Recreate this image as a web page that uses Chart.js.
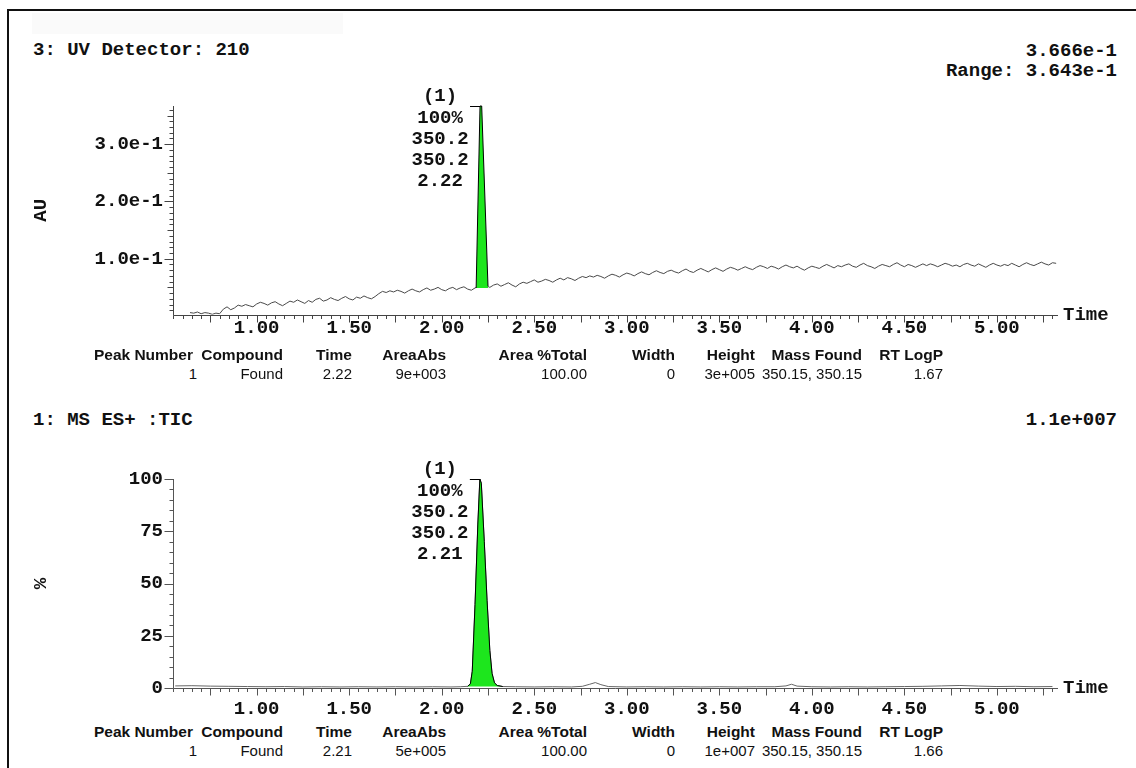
<!DOCTYPE html>
<html lang="en">
<head>
<meta charset="UTF-8">
<title>UV / TIC chromatogram</title>
<script src="https://cdn.jsdelivr.net/npm/chart.js"></script>
<style>
  body { margin:0; background:#fff; width:1136px; height:768px; overflow:hidden; position:relative; font-family:'Liberation Sans', Arial, sans-serif; }
  .frame { position:absolute; left:7px; top:9px; width:1140px; height:770px; border-left:2px solid #111; border-top:2px solid #111; }
  .blank { position:absolute; left:32px; top:13px; width:311px; height:21px; background:#fafafa; }
  .mono { position:absolute; font-family:'Liberation Mono','Courier New',monospace; font-weight:bold; font-size:19px; line-height:20px; color:#111; white-space:pre; }
  .cell { position:absolute; font-size:15px; line-height:18px; color:#111; white-space:nowrap; text-align:right; }
  .cell.h { font-weight:bold; font-size:15.5px; }
  canvas { position:absolute; left:0; }
</style>
</head>
<body>
<div class="frame"></div>
<div class="blank"></div>

<div class="mono" style="left:33px; top:40px;">3: UV Detector: 210</div>
<div class="mono" style="right:19px; top:41px;">3.666e-1</div>
<div class="mono" style="right:19px; top:61px;">Range: 3.643e-1</div>
<canvas id="uvChart" width="1136" height="270" style="top:80px"></canvas>

<div class="mono" style="left:33px; top:410px;">1: MS ES+ :TIC</div>
<div class="mono" style="right:19px; top:410px;">1.1e+007</div>
<canvas id="ticChart" width="1136" height="265" style="top:455px"></canvas>

<div id="tables"></div>

<script>
// ---- data ----
const timeRange = [0.548, 5.33];
const timeTicks = [1.0, 1.5, 2.0, 2.5, 3.0, 3.5, 4.0, 4.5, 5.0];
const timeTickLabels = ['1.00', '1.50', '2.00', '2.50', '3.00', '3.50', '4.00', '4.50', '5.00'];

// UV 210 trace (AU)
const uvTimes = [
  0.64,0.66,0.68,0.70,0.72,0.74,0.76,0.78,0.80,0.82,
  0.84,0.86,0.88,0.90,0.92,0.94,0.96,0.98,1.00,1.02,
  1.04,1.06,1.08,1.10,1.12,1.14,1.16,1.18,1.20,1.22,
  1.24,1.26,1.28,1.30,1.32,1.34,1.36,1.38,1.40,1.42,
  1.44,1.46,1.48,1.50,1.52,1.54,1.56,1.58,1.60,1.62,
  1.64,1.66,1.68,1.70,1.72,1.74,1.76,1.78,1.80,1.82,
  1.84,1.86,1.88,1.90,1.92,1.94,1.96,1.98,2.00,2.02,
  2.04,2.06,2.08,2.10,2.12,2.14,2.16,2.18,2.20,2.22,
  2.24,2.26,2.28,2.30,2.32,2.34,2.36,2.38,2.40,2.42,
  2.44,2.46,2.48,2.50,2.52,2.54,2.56,2.58,2.60,2.62,
  2.64,2.66,2.68,2.70,2.72,2.74,2.76,2.78,2.80,2.82,
  2.84,2.86,2.88,2.90,2.92,2.94,2.96,2.98,3.00,3.02,
  3.04,3.06,3.08,3.10,3.12,3.14,3.16,3.18,3.20,3.22,
  3.24,3.26,3.28,3.30,3.32,3.34,3.36,3.38,3.40,3.42,
  3.44,3.46,3.48,3.50,3.52,3.54,3.56,3.58,3.60,3.62,
  3.64,3.66,3.68,3.70,3.72,3.74,3.76,3.78,3.80,3.82,
  3.84,3.86,3.88,3.90,3.92,3.94,3.96,3.98,4.00,4.02,
  4.04,4.06,4.08,4.10,4.12,4.14,4.16,4.18,4.20,4.22,
  4.24,4.26,4.28,4.30,4.32,4.34,4.36,4.38,4.40,4.42,
  4.44,4.46,4.48,4.50,4.52,4.54,4.56,4.58,4.60,4.62,
  4.64,4.66,4.68,4.70,4.72,4.74,4.76,4.78,4.80,4.82,
  4.84,4.86,4.88,4.90,4.92,4.94,4.96,4.98,5.00,5.02,
  5.04,5.06,5.08,5.10,5.12,5.14,5.16,5.18,5.20,5.22,
  5.24,5.26,5.28,5.30,5.32
];
const uvValues = [
  0.006,0.005,0.007,0.004,0.006,0.005,0.003,0.005,0.004,0.012,
  0.016,0.011,0.014,0.019,0.017,0.020,0.018,0.016,0.021,0.024,
  0.022,0.019,0.023,0.025,0.021,0.018,0.022,0.026,0.024,0.028,
  0.025,0.022,0.027,0.024,0.029,0.031,0.026,0.028,0.032,0.029,
  0.027,0.031,0.034,0.030,0.028,0.033,0.031,0.035,0.032,0.030,
  0.034,0.039,0.043,0.041,0.044,0.042,0.045,0.043,0.040,0.044,
  0.047,0.044,0.042,0.046,0.049,0.045,0.047,0.050,0.046,0.044,
  0.048,0.050,0.046,0.049,0.051,0.047,0.045,0.049,0.052,0.050,
  0.053,0.050,0.054,0.056,0.052,0.055,0.058,0.054,0.051,0.056,
  0.059,0.057,0.060,0.063,0.059,0.061,0.064,0.062,0.059,0.063,
  0.066,0.063,0.067,0.065,0.062,0.066,0.069,0.067,0.070,0.068,
  0.071,0.069,0.066,0.070,0.073,0.071,0.068,0.072,0.075,0.073,
  0.070,0.074,0.077,0.074,0.072,0.076,0.079,0.076,0.074,0.078,
  0.080,0.077,0.075,0.079,0.082,0.078,0.076,0.080,0.083,0.080,
  0.077,0.081,0.084,0.081,0.078,0.082,0.085,0.083,0.080,0.083,
  0.086,0.083,0.081,0.085,0.088,0.086,0.083,0.087,0.085,0.082,
  0.086,0.089,0.086,0.084,0.087,0.083,0.080,0.084,0.087,0.085,
  0.083,0.087,0.090,0.087,0.084,0.088,0.086,0.089,0.091,0.087,
  0.085,0.089,0.092,0.088,0.086,0.083,0.087,0.090,0.088,0.086,
  0.090,0.093,0.089,0.086,0.090,0.088,0.085,0.088,0.091,0.088,
  0.091,0.089,0.086,0.089,0.092,0.090,0.087,0.089,0.086,0.090,
  0.092,0.089,0.087,0.091,0.088,0.085,0.089,0.092,0.089,0.087,
  0.090,0.088,0.092,0.089,0.086,0.090,0.093,0.090,0.088,0.091,
  0.094,0.091,0.089,0.093,0.092
];
const uvPeakTimes = [2.186, 2.207, 2.216, 2.25];
const uvPeakValues = [0.049, 0.3666, 0.3666, 0.052];
const uvPeakLabels = ['(1)', '100%', '350.2', '350.2', '2.22'];
const uvRange = [0.0023, 0.3666];
const uvYTicks = [0.1, 0.2, 0.3];
const uvYTickLabels = ['1.0e-1', '2.0e-1', '3.0e-1'];

// MS ES+ TIC trace (%)
const ticTimes = [
  0.56,0.65,0.75,0.85,0.95,1.05,1.15,1.25,1.35,1.45,1.55,1.65,1.75,1.85,1.95,2.05,2.10,
  2.14,2.155,2.165,2.18,2.195,2.206,2.214,2.23,2.245,2.26,2.272,2.285,2.30,2.33,
  2.40,2.50,2.60,2.70,2.76,2.80,2.83,2.86,2.90,3.00,3.10,3.20,3.30,3.40,3.50,3.60,3.70,3.80,
  3.86,3.89,3.92,4.00,4.10,4.20,4.30,4.40,4.50,4.60,4.70,4.80,4.90,5.00,5.10,5.20,5.30
];
const ticValues = [
  1.0,1.1,0.9,0.8,0.7,0.6,0.7,0.5,0.6,0.5,0.6,0.5,0.6,0.5,0.6,0.5,0.6,
  0.8,2,8,40,78,100,98,70,42,18,7,2.5,1.2,0.7,
  0.6,0.5,0.6,0.5,0.8,1.8,2.6,1.6,0.7,0.5,0.6,0.5,0.6,0.5,0.6,0.5,0.6,0.6,
  1.0,1.8,0.9,0.6,0.5,0.6,0.5,0.6,0.7,0.8,1.0,1.2,0.9,0.7,0.8,0.6,0.7
];
const ticPeakWindow = [2.14, 2.33];
const ticPeakLabels = ['(1)', '100%', '350.2', '350.2', '2.21'];
const ticRange = [0, 100];
const ticYTicks = [0, 25, 50, 75, 100];
const ticYTickLabels = ['0', '25', '50', '75', '100'];

// peak tables
const tableHeaders = ['Peak Number', 'Compound', 'Time', 'AreaAbs', 'Area %Total', 'Width', 'Height', 'Mass Found', 'RT LogP'];
const uvRow = ['1', 'Found', '2.22', '9e+003', '100.00', '0', '3e+005', '350.15, 350.15', '1.67'];
const ticRow = ['1', 'Found', '2.21', '5e+005', '100.00', '0', '1e+007', '350.15, 350.15', '1.66'];

// ---- layout ----
const colRight = [197, 283, 352, 446, 587, 675, 755, 862, 943];
const headRight = [193, 283, 352, 446, 587, 675, 755, 862, 943];
const monoFont = { family: '"Liberation Mono", "Courier New", monospace', size: 19, weight: 'bold' };

function addRow(cells, top, head) {
  const box = document.getElementById('tables');
  const rights = head ? headRight : colRight;
  cells.forEach((txt, i) => {
    const d = document.createElement('div');
    d.className = head ? 'cell h' : 'cell';
    d.style.right = (1136 - rights[i]) + 'px';
    d.style.top = top + 'px';
    d.textContent = txt;
    box.appendChild(d);
  });
}
addRow(tableHeaders, 346, true);
addRow(uvRow, 365, false);
addRow(tableHeaders, 723, true);
addRow(ticRow, 742, false);

// axis ticks, Time label, peak bracket and labels
function decor(o) {
  return {
    id: 'decor',
    afterDraw(chart) {
      const { ctx, chartArea: a, scales: { x, y } } = chart;
      const yb = Math.round(a.bottom) + 0.5, xl = Math.round(a.left) + 0.5;
      ctx.save();
      ctx.strokeStyle = o.axisColor;
      ctx.lineWidth = 1;
      ctx.beginPath();
      ctx.moveTo(xl, a.top);
      ctx.lineTo(xl, yb);
      ctx.lineTo(a.right, yb);
      // x ticks: 0.05 minor, 0.25 major
      for (let k = Math.ceil(x.min / 0.05 - 1e-6); k * 0.05 <= x.max + 1e-6; k++) {
        const px = Math.round(x.getPixelForValue(k * 0.05)) + 0.5;
        ctx.moveTo(px, yb);
        ctx.lineTo(px, yb + (k % 5 === 0 ? 7 : 3.5));
      }
      // y ticks
      const r = Math.round(o.yMajor / o.yMinor), rm = o.yMid ? Math.round(o.yMid / o.yMinor) : 0;
      for (let k = Math.ceil(y.min / o.yMinor - 1e-6); k * o.yMinor <= y.max + 1e-9; k++) {
        const py = Math.round(y.getPixelForValue(k * o.yMinor)) + 0.5;
        const len = k % r === 0 ? 9 : (rm && k % rm === 0 ? 6 : 4);
        ctx.moveTo(xl, py);
        ctx.lineTo(xl - len, py);
      }
      ctx.stroke();

      ctx.fillStyle = '#111';
      ctx.font = 'bold 19px "Liberation Mono", "Courier New", monospace';
      ctx.textBaseline = 'middle';
      ctx.textAlign = 'left';
      ctx.fillText('Time', a.right + 5, yb);

      const ax = x.getPixelForValue(o.apexTime), ay = Math.round(y.getPixelForValue(o.apexValue)) + 0.5;
      ctx.strokeStyle = '#000';
      ctx.beginPath();
      ctx.moveTo(ax - 10, ay);
      ctx.lineTo(ax, ay);
      ctx.stroke();
      ctx.textAlign = 'center';
      o.peakLabels.forEach((s, i) => ctx.fillText(s, ax - 40, ay - 10 + i * 21.3));
      ctx.restore();
    }
  };
}

function chromatogram(id, o) {
  const trace = o.times.map((t, i) => ({ x: t, y: o.values[i] }));
  const peak = o.peakTimes.map((t, i) => ({ x: t, y: o.peakValues[i] }));
  const top = o.peakValues.indexOf(Math.max(...o.peakValues));
  o.apexTime = o.peakTimes[top];
  o.apexValue = o.peakValues[top];
  return new Chart(document.getElementById(id), {
    type: 'line',
    data: {
      datasets: [
        { data: trace, borderColor: o.traceColor, borderWidth: 1, pointRadius: 0, fill: false, order: 1 },
        { data: peak, borderColor: '#000', borderWidth: 1, backgroundColor: '#1de61d', pointRadius: 0,
          fill: { value: o.peakBase }, order: 0, clip: 6 }
      ]
    },
    options: {
      responsive: false,
      animation: false,
      layout: { padding: { top: o.padTop, right: 78, left: 0, bottom: 0 } },
      plugins: { legend: { display: false }, tooltip: { enabled: false } },
      scales: {
        x: {
          type: 'linear', min: timeRange[0], max: timeRange[1],
          afterBuildTicks: s => { s.ticks = timeTicks.map(v => ({ value: v })); },
          afterFit: s => { s.height = o.xAxisHeight; },
          grid: { display: false, drawTicks: false }, border: { display: false },
          ticks: { autoSkip: false, maxRotation: 0, padding: o.xLabelPad, color: '#111', font: monoFont,
                   callback: (v, i) => timeTickLabels[i] }
        },
        y: {
          type: 'linear', min: o.range[0], max: o.range[1],
          afterBuildTicks: s => { s.ticks = o.yTicks.map(v => ({ value: v })); },
          afterFit: s => { s.width = 173; },
          grid: { display: false, drawTicks: false }, border: { display: false },
          ticks: { padding: 10, color: '#111', font: monoFont, callback: (v, i) => o.yTickLabels[i] },
          title: { display: true, text: o.yTitle, color: '#111', font: monoFont, padding: { top: 30, bottom: 0 } }
        }
      }
    },
    plugins: [decor(o)]
  });
}

chromatogram('uvChart', {
  times: uvTimes, values: uvValues,
  peakTimes: uvPeakTimes, peakValues: uvPeakValues, peakBase: uvPeakValues[0],
  peakLabels: uvPeakLabels,
  range: uvRange, yTicks: uvYTicks, yTickLabels: uvYTickLabels, yTitle: 'AU',
  yMinor: 0.01, yMid: 0.05, yMajor: 0.1,
  padTop: 26, xAxisHeight: 35.3, xLabelPad: 2,
  traceColor: '#4a4a4a', axisColor: '#444'
});

const ticPeak = ticTimes.map((t, i) => [t, ticValues[i]])
  .filter(p => p[0] >= ticPeakWindow[0] && p[0] <= ticPeakWindow[1]);

chromatogram('ticChart', {
  times: ticTimes, values: ticValues,
  peakTimes: ticPeak.map(p => p[0]), peakValues: ticPeak.map(p => p[1]), peakBase: 0.7,
  peakLabels: ticPeakLabels,
  range: ticRange, yTicks: ticYTicks, yTickLabels: ticYTickLabels, yTitle: '%',
  yMinor: 5, yMid: 0, yMajor: 25,
  padTop: 24, xAxisHeight: 32, xLabelPad: 10,
  traceColor: '#666', axisColor: '#555'
});
</script>
</body>
</html>
